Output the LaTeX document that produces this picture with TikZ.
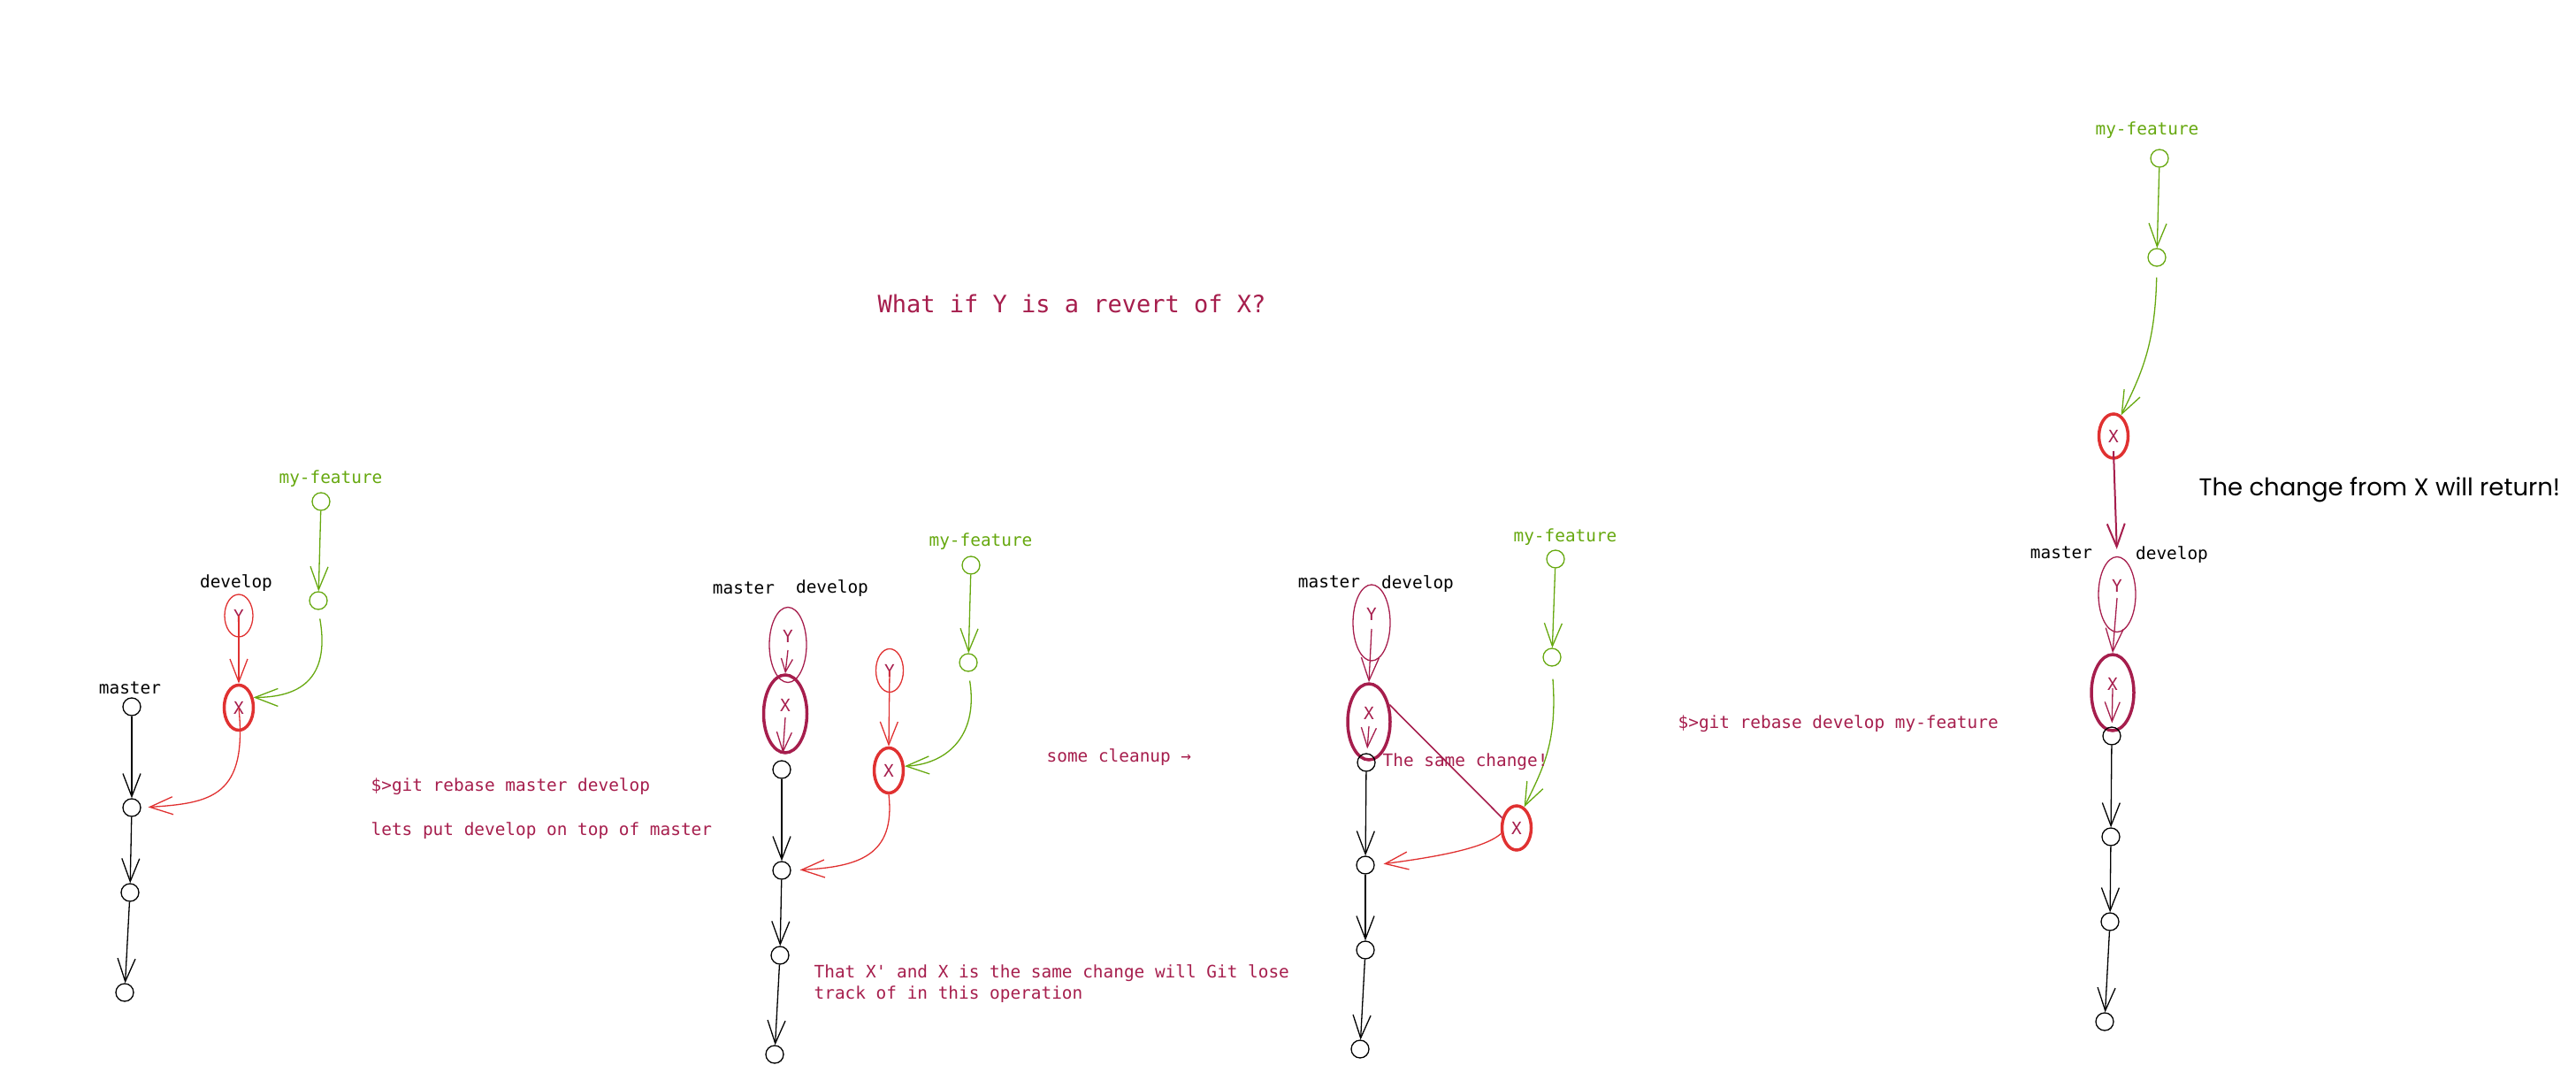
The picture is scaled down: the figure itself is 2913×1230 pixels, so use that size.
\documentclass[tikz,border=0pt]{standalone}
\usepackage{fontspec}
\setmonofont{DejaVu Sans Mono}
\newfontfamily\handfont{Poppins}
\usetikzlibrary{arrows.meta,shapes.geometric}
\definecolor{grn}{HTML}{66A80F}
\definecolor{crim}{HTML}{A61E4D}
\definecolor{rd}{HTML}{E03131}

\begin{document}
\begin{tikzpicture}[x=1pt,y=-1pt,
	font=\ttfamily\fontsize{19.4}{24}\selectfont,
	line width=1.3pt,
	>={Straight Barb[length=26pt,width=20pt]},
	commit/.style={draw,circle,minimum size=20pt,inner sep=0pt},
	change/.style={draw,ellipse,inner sep=0pt,text=crim},
	bigchange/.style={change,line width=3.5pt},
	lifted/.style={text depth=20pt},
	lbl/.style={inner sep=0pt},
	note/.style={inner sep=0pt,anchor=west,text=crim,align=left},
	tipmid/.style={-{Straight Barb[length=22pt,width=17pt]}},
	tipsmall/.style={-{Straight Barb[length=15pt,width=13pt]}}]
		\useasboundingbox (0,0) rectangle (2913,1230);
		
		\node[lbl,text=crim,font=\ttfamily\fontsize{27}{32}\selectfont] (title) at (1212,343) {What if Y is a revert of X?};
		
		% before the rebase
		\node[lbl,text=grn] (fa) at (374,541) {my-feature};
		\node[commit,draw=grn] (fa1) at (363,567) {};
		\node[commit,draw=grn] (fa2) at (360,679) {};
		\node[lbl] (da) at (267,659) {develop};
		\node[change,draw=rd,minimum width=32pt,minimum height=48pt] (ya) at (270,696) {Y};
		\node[bigchange,draw=rd,minimum width=33pt,minimum height=51pt] (xa) at (270,800) {X};
		\node[lbl] (ma) at (147,778) {master};
		\foreach \x/\y[count=\i] in {149/799,149/913,147/1009,141/1122}{
			\node[commit] (ma\i) at (\x,\y){};
		}
		
		\draw[->,grn] (fa1) -- (fa2);
		\draw[->,rd] (ya.center) -- (xa.north);
		\draw[->,grn,shorten <=10pt] (fa2.south) .. controls +(14,80) and +(50,0) .. (xa.35);
		\draw[->,rd,shorten >=8pt] (xa.center) .. controls +(10,100) and +(80,-5) .. (ma2.east);
		\draw[->] (ma1) -- (ma2);
		\draw[->] (ma2) -- (ma3);
		\draw[->] (ma3) -- (ma4);
		
		\node[note] (cmda) at (419,889) {\$>git rebase master develop};
		\node[note] (cmdb) at (419,939) {lets put develop on top of master};
		
		% after rebase of develop
		\node[lbl] (mb) at (841,665) {master};
		\node[lbl] (db) at (941,665) {develop};
		\node[lbl,text=grn] (fb) at (1109,612) {my-feature};
		\node[commit,draw=grn] (fb1) at (1098,639) {};
		\node[commit,draw=grn] (fb2) at (1095,749) {};
		\node[change,lifted,draw=crim,minimum width=42pt,minimum height=85pt] (yb) at (891,729) {Y};
		\node[bigchange,lifted,draw=crim,minimum width=49pt,minimum height=88pt] (xb) at (888,807) {X};
		\foreach \x/\y[count=\i] in {884/870,884/984,882/1080,876/1192}{
			\node[commit] (mb\i) at (\x,\y){};
		}
		\node[change,draw=rd,minimum width=31pt,minimum height=49pt] (yc) at (1006,758) {Y};
		\node[bigchange,draw=rd,minimum width=33pt,minimum height=51pt] (xc) at (1005,871) {X};
		
		\draw[->,grn] (fb1) -- (fb2);
		\draw[->,crim,tipsmall] ([yshift=-6pt]yb.center) -- (xb.north);
		\draw[->,crim,tipmid,shorten >=8pt] ([yshift=-4pt]xb.center) -- (mb1);
		\draw[->,rd] (yc.center) -- (xc.north);
		\draw[->,grn,shorten <=10pt] (fb2.south) .. controls +(12,75) and +(45,-2) .. (xc.15);
		\draw[->,rd,shorten >=10pt] (xc.south) .. controls +(8,70) and +(75,-4) .. (mb2.east);
		\draw[->] (mb1) -- (mb2);
		\draw[->] (mb2) -- (mb3);
		\draw[->] (mb3) -- (mb4);
		
		\node[note] (cleanup) at (1183,856) {some cleanup →};
		\node[note] (lose) at (920,1112) {That X' and X is the same change will Git lose\\track of in this operation};
		
		% rebase of my-feature
		\node[lbl] (mc) at (1503,658) {master};
		\node[lbl] (dc) at (1603,660) {develop};
		\node[lbl,text=grn] (fc) at (1770,607) {my-feature};
		\node[commit,draw=grn] (fc1) at (1759,632) {};
		\node[commit,draw=grn] (fc2) at (1755,743) {};
		\node[change,lifted,draw=crim,minimum width=42pt,minimum height=86pt] (yd) at (1551,704) {Y};
		\node[bigchange,lifted,draw=crim,minimum width=48pt,minimum height=86pt] (xd) at (1548,816) {X};
		\foreach \x/\y[count=\i] in {1545/862,1544/978,1544/1074,1538/1186}{
			\node[commit] (md\i) at (\x,\y){};
		}
		\node[bigchange,draw=rd,minimum width=33pt,minimum height=50pt] (xe) at (1715,936) {X};
		
		\draw[->,grn] (fc1) -- (fc2);
		\draw[->,crim] ([yshift=-7pt]yd.center) -- (xd.north);
		\draw[->,crim,tipmid,shorten >=5pt] ([yshift=-5pt]xd.center) -- (md1);
		\draw[crim,line width=1.6pt] (xd.40) -- (xe.145);
		\draw[->,grn,shorten <=14pt] (fc2.south) .. controls +(6,85) and +(22,-45) .. (xe.70);
		\draw[->,rd,shorten >=10pt] (xe.200) .. controls +(-20,18) and +(60,-8) .. (md2.east);
		\draw[->] (md1) -- (md2);
		\draw[->] (md2) -- (md3);
		\draw[->] (md3) -- (md4);
		
		\node[note] (same) at (1563,861) {The same change!};
		\node[note] (cmdc) at (1897,818) {\$>git rebase develop my-feature};
		
		% result
		\node[lbl,text=grn] (fe) at (2428,147) {my-feature};
		\node[commit,draw=grn] (fe1) at (2442,179) {};
		\node[commit,draw=grn] (fe2) at (2439,291) {};
		\node[bigchange,draw=rd,minimum width=33pt,minimum height=50pt] (xf) at (2390,493) {X};
		\node[lbl] (mf) at (2331,625) {master};
		\node[lbl] (df) at (2456,627) {develop};
		\node[change,lifted,draw=crim,minimum width=42pt,minimum height=85pt] (yg) at (2394,672) {Y};
		\node[bigchange,lifted,draw=crim,minimum width=48pt,minimum height=86pt] (xg) at (2389,783) {X};
		\foreach \x/\y[count=\i] in {2388/832,2387/946,2386/1042,2380/1155}{
			\node[commit] (mg\i) at (\x,\y){};
		}
		
		\draw[->,grn] (fe1) -- (fe2);
		\draw[->,grn,shorten <=12pt] (fe2.south) .. controls +(-2,85) and +(25,-50) .. (xf.70);
		\draw[->,crim,line width=2pt,shorten >=8pt] ([yshift=-17pt]xf.center) -- (yg.north);
		\draw[->,crim] ([yshift=-4pt]yg.center) -- (xg.north);
		\draw[->,crim,tipmid,shorten >=4pt] ([yshift=5pt]xg.center) -- (mg1);
		\draw[->] (mg1) -- (mg2);
		\draw[->] (mg2) -- (mg3);
		\draw[->] (mg3) -- (mg4);
		
		\node[lbl,anchor=west,font=\handfont\fontsize{27.5}{32}\selectfont] (ret) at (2486,554) {The change from X will return!};
\end{tikzpicture}
\end{document}
